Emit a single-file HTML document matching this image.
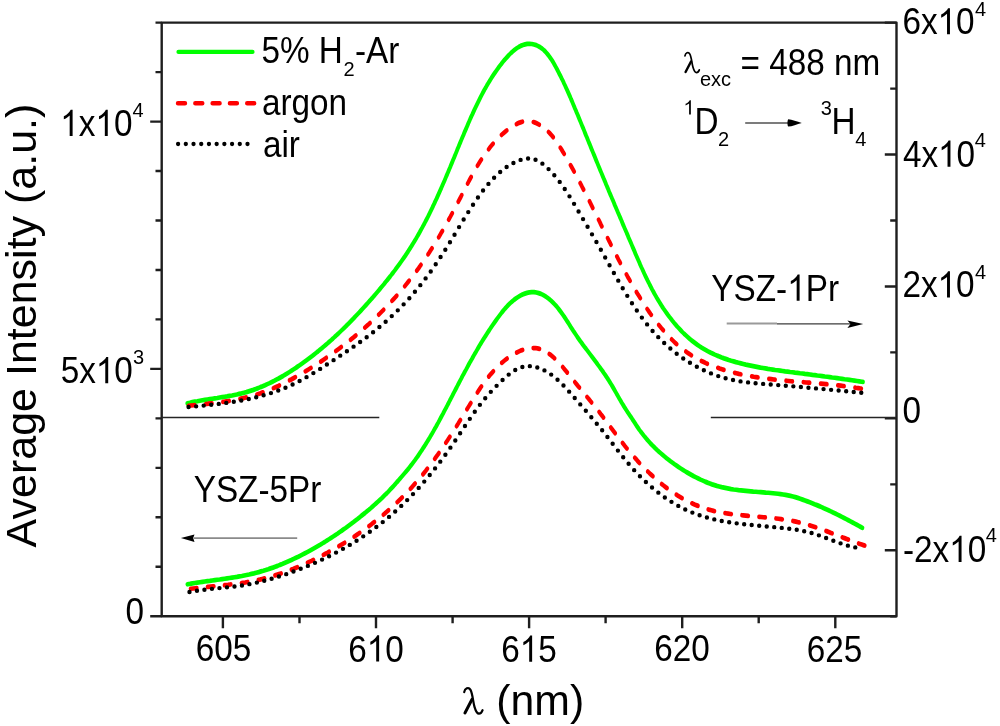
<!DOCTYPE html>
<html><head><meta charset="utf-8"><style>
html,body{margin:0;padding:0;background:#fff;width:1000px;height:726px;overflow:hidden}
svg{display:block;filter:blur(0.45px)}
text{font-family:"Liberation Sans",sans-serif;fill:#000;stroke:none}
</style></head><body>
<svg width="1000" height="726" viewBox="0 0 1000 726">
<rect width="1000" height="726" fill="#fff"/>
<path d="M161.7,22.6 H896.5 V616.3 H161.7 Z" fill="none" stroke="#1e1e1e" stroke-width="2.4" stroke-linejoin="round"/>
<path d="M150.2,616.3 H161.7 M155.5,566.8 H161.7 M155.5,517.3 H161.7 M155.5,467.9 H161.7 M155.5,418.4 H161.7 M150.2,368.9 H161.7 M155.5,319.4 H161.7 M155.5,270.0 H161.7 M155.5,220.5 H161.7 M155.5,171.0 H161.7 M150.2,121.6 H161.7 M155.5,72.1 H161.7 M155.5,22.6 H161.7 M890.2,616.3 H896.5 M884.8,550.3 H896.5 M890.2,484.4 H896.5 M884.8,418.4 H896.5 M890.2,352.4 H896.5 M884.8,286.5 H896.5 M890.2,220.5 H896.5 M884.8,154.5 H896.5 M890.2,88.6 H896.5 M884.8,22.6 H896.5 M222.9,616.3 V628.3 M299.5,616.3 V623.2 M376.0,616.3 V628.3 M452.6,616.3 V623.2 M529.1,616.3 V628.3 M605.6,616.3 V623.2 M682.2,616.3 V628.3 M758.7,616.3 V623.2 M835.3,616.3 V628.3" fill="none" stroke="#1e1e1e" stroke-width="2.4"/>
<path d="M161.7,417.5 H379.3 M710.8,417.5 H896.5" stroke="#252525" stroke-width="1.6"/>
<g transform="scale(1,1.25)"><path d="M187.3,322.6 L189.8,322.2 L192.3,321.7 L194.8,321.3 L197.3,321.0 L199.9,320.6 L202.4,320.2 L204.9,319.9 L207.4,319.6 L209.8,319.3 L212.3,319.0 L214.8,318.7 L217.3,318.4 L219.7,318.0 L222.2,317.7 L224.7,317.4 L227.1,317.1 L229.5,316.7 L232.0,316.4 L234.4,316.0 L236.8,315.6 L239.2,315.1 L241.6,314.7 L244.0,314.2 L246.4,313.7 L248.7,313.1 L251.1,312.5 L253.4,311.9 L255.8,311.2 L258.1,310.5 L260.4,309.7 L262.7,309.0 L265.0,308.2 L267.3,307.3 L269.6,306.5 L271.9,305.6 L274.1,304.7 L276.3,303.7 L278.6,302.8 L280.8,301.8 L283.0,300.8 L285.2,299.7 L287.3,298.7 L289.5,297.6 L291.6,296.5 L293.7,295.4 L295.9,294.3 L297.9,293.1 L300.0,292.0 L302.1,290.8 L304.1,289.6 L306.2,288.4 L308.2,287.2 L310.2,286.0 L312.2,284.8 L314.1,283.6 L316.1,282.3 L318.0,281.1 L319.9,279.8 L321.8,278.6 L323.7,277.3 L325.6,276.0 L327.5,274.7 L329.3,273.4 L331.2,272.1 L333.0,270.8 L334.8,269.4 L336.6,268.1 L338.4,266.8 L340.2,265.4 L342.0,264.0 L343.7,262.7 L345.5,261.3 L347.2,259.9 L349.0,258.5 L350.7,257.1 L352.4,255.7 L354.1,254.3 L355.8,252.8 L357.5,251.4 L359.2,250.0 L360.9,248.5 L362.6,247.0 L364.2,245.6 L365.9,244.1 L367.6,242.6 L369.2,241.1 L370.9,239.6 L372.6,238.1 L374.2,236.6 L375.8,235.1 L377.5,233.5 L379.1,232.0 L380.7,230.4 L382.3,228.9 L384.0,227.3 L385.5,225.7 L387.1,224.2 L388.7,222.6 L390.3,221.0 L391.8,219.4 L393.4,217.8 L394.9,216.2 L396.4,214.5 L397.9,212.9 L399.4,211.3 L400.9,209.6 L402.3,208.0 L403.8,206.3 L405.2,204.7 L406.6,203.0 L408.0,201.3 L409.3,199.6 L410.7,197.9 L412.0,196.2 L413.3,194.5 L414.6,192.8 L415.9,191.1 L417.1,189.4 L418.4,187.6 L419.6,185.9 L420.8,184.1 L422.0,182.4 L423.2,180.6 L424.4,178.9 L425.5,177.1 L426.7,175.3 L427.8,173.6 L428.9,171.8 L430.0,170.0 L431.1,168.2 L432.2,166.4 L433.2,164.6 L434.3,162.8 L435.3,161.0 L436.4,159.2 L437.4,157.4 L438.4,155.6 L439.4,153.8 L440.4,152.0 L441.4,150.2 L442.4,148.3 L443.4,146.5 L444.4,144.7 L445.4,142.8 L446.3,141.0 L447.3,139.2 L448.3,137.3 L449.2,135.5 L450.2,133.7 L451.1,131.8 L452.1,130.0 L453.0,128.1 L454.0,126.3 L454.9,124.5 L455.9,122.6 L456.8,120.8 L457.7,118.9 L458.7,117.1 L459.6,115.2 L460.6,113.4 L461.5,111.6 L462.5,109.7 L463.5,107.9 L464.4,106.0 L465.4,104.2 L466.4,102.4 L467.4,100.5 L468.3,98.7 L469.3,96.9 L470.3,95.0 L471.3,93.2 L472.4,91.4 L473.4,89.6 L474.4,87.8 L475.5,86.0 L476.6,84.2 L477.7,82.4 L478.8,80.6 L479.9,78.8 L481.0,77.0 L482.2,75.2 L483.3,73.5 L484.5,71.7 L485.8,70.0 L487.0,68.2 L488.3,66.5 L489.6,64.8 L490.9,63.1 L492.2,61.4 L493.6,59.7 L495.0,58.1 L496.5,56.4 L497.9,54.8 L499.4,53.1 L501.0,51.5 L502.5,49.9 L504.1,48.3 L505.8,46.8 L507.5,45.3 L509.2,43.8 L511.0,42.4 L512.8,41.1 L514.7,39.8 L516.7,38.6 L518.7,37.6 L520.7,36.7 L522.9,36.0 L525.1,35.5 L527.3,35.1 L529.6,35.1 L531.8,35.2 L534.0,35.6 L536.2,36.1 L538.2,36.9 L540.2,37.8 L542.1,38.9 L543.9,40.1 L545.6,41.5 L547.2,43.0 L548.8,44.6 L550.3,46.3 L551.8,48.0 L553.2,49.8 L554.5,51.7 L555.8,53.6 L557.1,55.5 L558.3,57.4 L559.5,59.3 L560.7,61.1 L561.8,63.0 L563.0,64.8 L564.0,66.7 L565.1,68.5 L566.1,70.3 L567.2,72.2 L568.2,74.0 L569.2,75.8 L570.2,77.6 L571.1,79.4 L572.1,81.2 L573.0,83.0 L574.0,84.9 L574.9,86.7 L575.9,88.5 L576.8,90.3 L577.8,92.1 L578.7,93.9 L579.6,95.7 L580.6,97.6 L581.5,99.4 L582.4,101.2 L583.4,103.0 L584.3,104.8 L585.2,106.7 L586.1,108.5 L587.1,110.3 L588.0,112.2 L588.9,114.0 L589.9,115.8 L590.8,117.7 L591.7,119.5 L592.7,121.4 L593.6,123.2 L594.6,125.0 L595.5,126.9 L596.4,128.7 L597.4,130.6 L598.3,132.4 L599.3,134.3 L600.2,136.1 L601.2,138.0 L602.2,139.9 L603.1,141.7 L604.1,143.6 L605.1,145.4 L606.0,147.3 L607.0,149.2 L608.0,151.0 L608.9,152.9 L609.9,154.8 L610.9,156.6 L611.9,158.5 L612.9,160.3 L613.9,162.2 L614.8,164.1 L615.8,165.9 L616.8,167.8 L617.8,169.7 L618.8,171.5 L619.8,173.4 L620.8,175.2 L621.8,177.1 L622.7,179.0 L623.7,180.8 L624.7,182.7 L625.7,184.5 L626.7,186.4 L627.7,188.2 L628.6,190.1 L629.6,191.9 L630.6,193.7 L631.6,195.6 L632.5,197.4 L633.5,199.2 L634.5,201.0 L635.4,202.9 L636.4,204.7 L637.4,206.5 L638.4,208.3 L639.4,210.1 L640.3,211.9 L641.3,213.7 L642.4,215.5 L643.4,217.3 L644.4,219.1 L645.4,220.8 L646.5,222.6 L647.6,224.4 L648.7,226.1 L649.8,227.9 L650.9,229.6 L652.0,231.4 L653.2,233.1 L654.4,234.9 L655.6,236.6 L656.8,238.3 L658.1,240.0 L659.4,241.7 L660.7,243.4 L662.0,245.1 L663.4,246.8 L664.8,248.4 L666.3,250.1 L667.7,251.7 L669.2,253.3 L670.8,254.9 L672.3,256.5 L673.9,258.1 L675.5,259.6 L677.2,261.2 L678.9,262.6 L680.6,264.1 L682.3,265.6 L684.1,267.0 L685.9,268.3 L687.8,269.7 L689.6,271.0 L691.5,272.3 L693.5,273.5 L695.5,274.7 L697.5,275.9 L699.5,277.0 L701.6,278.1 L703.7,279.1 L705.9,280.1 L708.1,281.1 L710.3,282.0 L712.5,282.8 L714.8,283.7 L717.1,284.5 L719.4,285.2 L721.7,286.0 L724.1,286.7 L726.4,287.3 L728.8,288.0 L731.2,288.6 L733.6,289.1 L736.0,289.7 L738.5,290.2 L740.9,290.7 L743.3,291.2 L745.8,291.7 L748.2,292.1 L750.7,292.5 L753.1,292.9 L755.6,293.3 L758.0,293.7 L760.5,294.1 L762.9,294.4 L765.4,294.7 L767.8,295.1 L770.3,295.4 L772.8,295.7 L775.2,296.0 L777.7,296.2 L780.2,296.5 L782.6,296.8 L785.1,297.1 L787.6,297.3 L790.1,297.6 L792.5,297.8 L795.0,298.1 L797.5,298.3 L800.0,298.6 L802.5,298.8 L804.9,299.1 L807.4,299.3 L809.9,299.6 L812.4,299.9 L814.9,300.1 L817.3,300.4 L819.8,300.6 L822.3,300.9 L824.8,301.2 L827.3,301.4 L829.8,301.7 L832.2,302.0 L834.7,302.2 L837.2,302.5 L839.7,302.8 L842.1,303.1 L844.6,303.4 L847.1,303.6 L849.6,303.9 L852.0,304.2 L854.5,304.5 L857.0,304.8 L859.4,305.1 L861.9,305.4 L863.0,305.5" fill="none" stroke="#00ff00" stroke-width="3.8" stroke-linejoin="round" stroke-linecap="round"/></g>
<g transform="scale(1,1.25)"><path d="M188.5,324.6 L191.1,324.4 L193.6,324.2 L196.2,324.0 L198.8,323.8 L201.3,323.6 L203.9,323.4 L206.4,323.2 L208.9,322.9 L211.4,322.7 L213.9,322.5 L216.4,322.2 L218.9,322.0 L221.4,321.7 L223.9,321.4 L226.3,321.1 L228.8,320.8 L231.2,320.4 L233.7,320.1 L236.1,319.7 L238.5,319.3 L240.9,318.9 L243.3,318.5 L245.7,318.0 L248.1,317.6 L250.5,317.1 L252.8,316.5 L255.2,316.0 L257.6,315.4 L259.9,314.8 L262.2,314.1 L264.5,313.4 L266.9,312.7 L269.2,312.0 L271.5,311.2 L273.8,310.4 L276.0,309.6 L278.3,308.8 L280.6,307.9 L282.8,307.1 L285.1,306.2 L287.3,305.2 L289.5,304.3 L291.7,303.4 L293.9,302.4 L296.1,301.4 L298.3,300.4 L300.5,299.4 L302.7,298.4 L304.9,297.3 L307.0,296.3 L309.2,295.2 L311.3,294.2 L313.4,293.1 L315.6,292.0 L317.7,290.9 L319.8,289.8 L321.9,288.7 L323.9,287.6 L326.0,286.4 L328.1,285.3 L330.1,284.1 L332.2,283.0 L334.2,281.8 L336.2,280.6 L338.3,279.4 L340.3,278.2 L342.3,277.0 L344.2,275.8 L346.2,274.6 L348.2,273.3 L350.1,272.1 L352.1,270.8 L354.0,269.6 L355.9,268.3 L357.8,267.0 L359.7,265.7 L361.6,264.4 L363.5,263.1 L365.4,261.7 L367.2,260.4 L369.1,259.1 L370.9,257.7 L372.7,256.3 L374.5,255.0 L376.3,253.6 L378.1,252.2 L379.9,250.8 L381.6,249.4 L383.4,248.0 L385.1,246.5 L386.9,245.1 L388.6,243.7 L390.3,242.2 L392.0,240.7 L393.6,239.3 L395.3,237.8 L396.9,236.3 L398.6,234.8 L400.2,233.3 L401.8,231.8 L403.4,230.2 L405.0,228.7 L406.6,227.1 L408.1,225.6 L409.7,224.0 L411.2,222.5 L412.7,220.9 L414.3,219.3 L415.7,217.7 L417.2,216.1 L418.7,214.5 L420.1,212.8 L421.6,211.2 L423.0,209.6 L424.4,207.9 L425.8,206.2 L427.2,204.6 L428.6,202.9 L429.9,201.2 L431.3,199.5 L432.6,197.8 L433.9,196.1 L435.2,194.4 L436.5,192.7 L437.8,191.0 L439.1,189.3 L440.4,187.5 L441.6,185.8 L442.9,184.1 L444.1,182.3 L445.4,180.6 L446.6,178.8 L447.8,177.1 L449.0,175.3 L450.2,173.6 L451.4,171.8 L452.6,170.0 L453.7,168.3 L454.9,166.5 L456.1,164.8 L457.2,163.0 L458.4,161.2 L459.5,159.5 L460.7,157.7 L461.8,155.9 L462.9,154.2 L464.0,152.4 L465.2,150.7 L466.3,148.9 L467.4,147.2 L468.6,145.4 L469.7,143.7 L470.9,141.9 L472.1,140.2 L473.3,138.4 L474.5,136.7 L475.7,135.0 L477.0,133.3 L478.3,131.5 L479.6,129.8 L481.0,128.1 L482.3,126.4 L483.8,124.7 L485.2,123.1 L486.7,121.4 L488.3,119.8 L489.8,118.1 L491.4,116.5 L493.1,114.9 L494.8,113.4 L496.6,111.9 L498.3,110.4 L500.2,108.9 L502.1,107.5 L504.0,106.2 L506.0,104.8 L508.1,103.6 L510.1,102.3 L512.3,101.2 L514.5,100.1 L516.7,99.2 L518.9,98.3 L521.2,97.7 L523.4,97.2 L525.7,96.9 L527.9,96.9 L530.2,97.1 L532.4,97.4 L534.5,97.9 L536.6,98.6 L538.7,99.5 L540.7,100.4 L542.6,101.4 L544.5,102.6 L546.3,103.8 L548.0,105.1 L549.7,106.5 L551.3,107.9 L552.8,109.4 L554.3,111.0 L555.8,112.6 L557.3,114.3 L558.7,115.9 L560.0,117.7 L561.4,119.4 L562.7,121.2 L564.0,122.9 L565.3,124.7 L566.6,126.5 L567.8,128.2 L569.1,130.0 L570.3,131.8 L571.6,133.6 L572.8,135.3 L574.0,137.1 L575.2,138.9 L576.4,140.7 L577.6,142.5 L578.7,144.2 L579.9,146.0 L581.1,147.8 L582.2,149.6 L583.3,151.3 L584.5,153.1 L585.6,154.9 L586.7,156.7 L587.9,158.5 L589.0,160.2 L590.1,162.0 L591.2,163.8 L592.3,165.6 L593.4,167.4 L594.5,169.1 L595.6,170.9 L596.7,172.7 L597.8,174.5 L598.9,176.2 L600.0,178.0 L601.0,179.8 L602.1,181.5 L603.2,183.3 L604.3,185.1 L605.4,186.9 L606.5,188.6 L607.6,190.4 L608.7,192.2 L609.8,193.9 L610.9,195.7 L612.0,197.4 L613.1,199.2 L614.2,201.0 L615.3,202.7 L616.5,204.5 L617.6,206.2 L618.7,208.0 L619.9,209.7 L621.0,211.5 L622.2,213.2 L623.4,215.0 L624.5,216.7 L625.7,218.5 L626.9,220.2 L628.1,222.0 L629.4,223.7 L630.6,225.5 L631.8,227.2 L633.1,228.9 L634.4,230.7 L635.6,232.4 L636.9,234.2 L638.2,235.9 L639.6,237.6 L640.9,239.4 L642.3,241.1 L643.6,242.8 L645.0,244.6 L646.4,246.3 L647.9,248.0 L649.3,249.7 L650.8,251.4 L652.3,253.0 L653.8,254.7 L655.3,256.3 L656.8,257.9 L658.4,259.6 L660.0,261.1 L661.6,262.7 L663.3,264.3 L664.9,265.8 L666.6,267.3 L668.3,268.8 L670.0,270.2 L671.8,271.6 L673.6,273.0 L675.4,274.4 L677.2,275.7 L679.1,277.0 L681.0,278.2 L682.9,279.5 L684.9,280.6 L686.8,281.8 L688.9,282.9 L690.9,284.0 L693.0,285.0 L695.1,286.0 L697.2,287.0 L699.3,287.9 L701.5,288.8 L703.7,289.6 L705.9,290.5 L708.1,291.3 L710.4,292.0 L712.7,292.8 L715.0,293.5 L717.3,294.1 L719.6,294.8 L722.0,295.4 L724.3,296.0 L726.7,296.6 L729.1,297.1 L731.5,297.6 L733.9,298.1 L736.4,298.6 L738.8,299.1 L741.3,299.5 L743.7,299.9 L746.2,300.3 L748.7,300.7 L751.2,301.0 L753.7,301.4 L756.2,301.7 L758.7,302.0 L761.2,302.3 L763.7,302.6 L766.2,302.8 L768.7,303.1 L771.2,303.3 L773.8,303.6 L776.3,303.8 L778.8,304.0 L781.3,304.2 L783.8,304.4 L786.3,304.6 L788.8,304.8 L791.3,305.0 L793.8,305.1 L796.3,305.3 L798.7,305.5 L801.2,305.6 L803.7,305.8 L806.2,306.0 L808.6,306.1 L811.1,306.3 L813.5,306.4 L816.0,306.6 L818.5,306.8 L820.9,306.9 L823.4,307.1 L825.9,307.3 L828.3,307.5 L830.8,307.7 L833.3,307.9 L835.7,308.1 L838.2,308.3 L840.7,308.5 L843.2,308.8 L845.7,309.0 L848.2,309.3 L850.7,309.6 L853.2,309.8 L855.7,310.2 L858.2,310.5 L860.7,310.8 L861.4,310.9" fill="none" stroke="#ff0000" stroke-width="3.8" stroke-dasharray="6.2 11.093" stroke-linecap="round"/></g>
<path d="M186.38,407.06a2.2,2.2 0 1,0 4.4,0a2.2,2.2 0 1,0 -4.4,0M193.93,406.35a2.2,2.2 0 1,0 4.4,0a2.2,2.2 0 1,0 -4.4,0M201.47,405.61a2.2,2.2 0 1,0 4.4,0a2.2,2.2 0 1,0 -4.4,0M209.01,404.80a2.2,2.2 0 1,0 4.4,0a2.2,2.2 0 1,0 -4.4,0M216.55,403.91a2.2,2.2 0 1,0 4.4,0a2.2,2.2 0 1,0 -4.4,0M224.07,402.91a2.2,2.2 0 1,0 4.4,0a2.2,2.2 0 1,0 -4.4,0M231.59,401.77a2.2,2.2 0 1,0 4.4,0a2.2,2.2 0 1,0 -4.4,0M239.08,400.47a2.2,2.2 0 1,0 4.4,0a2.2,2.2 0 1,0 -4.4,0M246.55,398.98a2.2,2.2 0 1,0 4.4,0a2.2,2.2 0 1,0 -4.4,0M254.00,397.27a2.2,2.2 0 1,0 4.4,0a2.2,2.2 0 1,0 -4.4,0M261.40,395.31a2.2,2.2 0 1,0 4.4,0a2.2,2.2 0 1,0 -4.4,0M268.76,393.08a2.2,2.2 0 1,0 4.4,0a2.2,2.2 0 1,0 -4.4,0M276.05,390.55a2.2,2.2 0 1,0 4.4,0a2.2,2.2 0 1,0 -4.4,0M283.26,387.69a2.2,2.2 0 1,0 4.4,0a2.2,2.2 0 1,0 -4.4,0M290.38,384.48a2.2,2.2 0 1,0 4.4,0a2.2,2.2 0 1,0 -4.4,0M297.39,380.94a2.2,2.2 0 1,0 4.4,0a2.2,2.2 0 1,0 -4.4,0M304.32,377.13a2.2,2.2 0 1,0 4.4,0a2.2,2.2 0 1,0 -4.4,0M311.17,373.10a2.2,2.2 0 1,0 4.4,0a2.2,2.2 0 1,0 -4.4,0M317.95,368.90a2.2,2.2 0 1,0 4.4,0a2.2,2.2 0 1,0 -4.4,0M324.67,364.56a2.2,2.2 0 1,0 4.4,0a2.2,2.2 0 1,0 -4.4,0M331.36,360.14a2.2,2.2 0 1,0 4.4,0a2.2,2.2 0 1,0 -4.4,0M338.03,355.67a2.2,2.2 0 1,0 4.4,0a2.2,2.2 0 1,0 -4.4,0M344.70,351.20a2.2,2.2 0 1,0 4.4,0a2.2,2.2 0 1,0 -4.4,0M351.35,346.67a2.2,2.2 0 1,0 4.4,0a2.2,2.2 0 1,0 -4.4,0M357.94,342.04a2.2,2.2 0 1,0 4.4,0a2.2,2.2 0 1,0 -4.4,0M364.46,337.24a2.2,2.2 0 1,0 4.4,0a2.2,2.2 0 1,0 -4.4,0M370.89,332.25a2.2,2.2 0 1,0 4.4,0a2.2,2.2 0 1,0 -4.4,0M377.22,327.07a2.2,2.2 0 1,0 4.4,0a2.2,2.2 0 1,0 -4.4,0M383.45,321.69a2.2,2.2 0 1,0 4.4,0a2.2,2.2 0 1,0 -4.4,0M389.56,316.12a2.2,2.2 0 1,0 4.4,0a2.2,2.2 0 1,0 -4.4,0M395.56,310.35a2.2,2.2 0 1,0 4.4,0a2.2,2.2 0 1,0 -4.4,0M401.43,304.37a2.2,2.2 0 1,0 4.4,0a2.2,2.2 0 1,0 -4.4,0M407.15,298.18a2.2,2.2 0 1,0 4.4,0a2.2,2.2 0 1,0 -4.4,0M412.72,291.77a2.2,2.2 0 1,0 4.4,0a2.2,2.2 0 1,0 -4.4,0M418.13,285.17a2.2,2.2 0 1,0 4.4,0a2.2,2.2 0 1,0 -4.4,0M423.40,278.38a2.2,2.2 0 1,0 4.4,0a2.2,2.2 0 1,0 -4.4,0M428.53,271.42a2.2,2.2 0 1,0 4.4,0a2.2,2.2 0 1,0 -4.4,0M433.52,264.31a2.2,2.2 0 1,0 4.4,0a2.2,2.2 0 1,0 -4.4,0M438.38,257.06a2.2,2.2 0 1,0 4.4,0a2.2,2.2 0 1,0 -4.4,0M443.13,249.69a2.2,2.2 0 1,0 4.4,0a2.2,2.2 0 1,0 -4.4,0M447.76,242.22a2.2,2.2 0 1,0 4.4,0a2.2,2.2 0 1,0 -4.4,0M452.33,234.67a2.2,2.2 0 1,0 4.4,0a2.2,2.2 0 1,0 -4.4,0M456.87,227.11a2.2,2.2 0 1,0 4.4,0a2.2,2.2 0 1,0 -4.4,0M461.44,219.57a2.2,2.2 0 1,0 4.4,0a2.2,2.2 0 1,0 -4.4,0M466.08,212.10a2.2,2.2 0 1,0 4.4,0a2.2,2.2 0 1,0 -4.4,0M470.83,204.74a2.2,2.2 0 1,0 4.4,0a2.2,2.2 0 1,0 -4.4,0M475.74,197.54a2.2,2.2 0 1,0 4.4,0a2.2,2.2 0 1,0 -4.4,0M480.85,190.56a2.2,2.2 0 1,0 4.4,0a2.2,2.2 0 1,0 -4.4,0M486.23,183.90a2.2,2.2 0 1,0 4.4,0a2.2,2.2 0 1,0 -4.4,0M491.92,177.68a2.2,2.2 0 1,0 4.4,0a2.2,2.2 0 1,0 -4.4,0M497.98,172.01a2.2,2.2 0 1,0 4.4,0a2.2,2.2 0 1,0 -4.4,0M504.42,167.05a2.2,2.2 0 1,0 4.4,0a2.2,2.2 0 1,0 -4.4,0M511.23,162.95a2.2,2.2 0 1,0 4.4,0a2.2,2.2 0 1,0 -4.4,0M518.39,159.91a2.2,2.2 0 1,0 4.4,0a2.2,2.2 0 1,0 -4.4,0M525.86,158.54a2.2,2.2 0 1,0 4.4,0a2.2,2.2 0 1,0 -4.4,0M533.33,159.75a2.2,2.2 0 1,0 4.4,0a2.2,2.2 0 1,0 -4.4,0M540.19,163.67a2.2,2.2 0 1,0 4.4,0a2.2,2.2 0 1,0 -4.4,0M546.38,169.11a2.2,2.2 0 1,0 4.4,0a2.2,2.2 0 1,0 -4.4,0M552.12,175.27a2.2,2.2 0 1,0 4.4,0a2.2,2.2 0 1,0 -4.4,0M557.50,181.91a2.2,2.2 0 1,0 4.4,0a2.2,2.2 0 1,0 -4.4,0M562.54,188.97a2.2,2.2 0 1,0 4.4,0a2.2,2.2 0 1,0 -4.4,0M567.30,196.33a2.2,2.2 0 1,0 4.4,0a2.2,2.2 0 1,0 -4.4,0M571.87,203.87a2.2,2.2 0 1,0 4.4,0a2.2,2.2 0 1,0 -4.4,0M576.37,211.47a2.2,2.2 0 1,0 4.4,0a2.2,2.2 0 1,0 -4.4,0M580.86,219.08a2.2,2.2 0 1,0 4.4,0a2.2,2.2 0 1,0 -4.4,0M585.34,226.71a2.2,2.2 0 1,0 4.4,0a2.2,2.2 0 1,0 -4.4,0M589.80,234.35a2.2,2.2 0 1,0 4.4,0a2.2,2.2 0 1,0 -4.4,0M594.23,242.02a2.2,2.2 0 1,0 4.4,0a2.2,2.2 0 1,0 -4.4,0M598.63,249.71a2.2,2.2 0 1,0 4.4,0a2.2,2.2 0 1,0 -4.4,0M602.99,257.44a2.2,2.2 0 1,0 4.4,0a2.2,2.2 0 1,0 -4.4,0M607.33,265.20a2.2,2.2 0 1,0 4.4,0a2.2,2.2 0 1,0 -4.4,0M611.68,272.94a2.2,2.2 0 1,0 4.4,0a2.2,2.2 0 1,0 -4.4,0M616.06,280.65a2.2,2.2 0 1,0 4.4,0a2.2,2.2 0 1,0 -4.4,0M620.51,288.30a2.2,2.2 0 1,0 4.4,0a2.2,2.2 0 1,0 -4.4,0M625.07,295.85a2.2,2.2 0 1,0 4.4,0a2.2,2.2 0 1,0 -4.4,0M629.77,303.27a2.2,2.2 0 1,0 4.4,0a2.2,2.2 0 1,0 -4.4,0M634.62,310.53a2.2,2.2 0 1,0 4.4,0a2.2,2.2 0 1,0 -4.4,0M639.66,317.58a2.2,2.2 0 1,0 4.4,0a2.2,2.2 0 1,0 -4.4,0M644.90,324.40a2.2,2.2 0 1,0 4.4,0a2.2,2.2 0 1,0 -4.4,0M650.37,330.94a2.2,2.2 0 1,0 4.4,0a2.2,2.2 0 1,0 -4.4,0M656.06,337.17a2.2,2.2 0 1,0 4.4,0a2.2,2.2 0 1,0 -4.4,0M661.99,343.05a2.2,2.2 0 1,0 4.4,0a2.2,2.2 0 1,0 -4.4,0M668.14,348.56a2.2,2.2 0 1,0 4.4,0a2.2,2.2 0 1,0 -4.4,0M674.49,353.70a2.2,2.2 0 1,0 4.4,0a2.2,2.2 0 1,0 -4.4,0M681.04,358.45a2.2,2.2 0 1,0 4.4,0a2.2,2.2 0 1,0 -4.4,0M687.76,362.80a2.2,2.2 0 1,0 4.4,0a2.2,2.2 0 1,0 -4.4,0M694.63,366.76a2.2,2.2 0 1,0 4.4,0a2.2,2.2 0 1,0 -4.4,0M701.64,370.30a2.2,2.2 0 1,0 4.4,0a2.2,2.2 0 1,0 -4.4,0M708.79,373.42a2.2,2.2 0 1,0 4.4,0a2.2,2.2 0 1,0 -4.4,0M716.05,376.09a2.2,2.2 0 1,0 4.4,0a2.2,2.2 0 1,0 -4.4,0M723.40,378.30a2.2,2.2 0 1,0 4.4,0a2.2,2.2 0 1,0 -4.4,0M730.84,380.04a2.2,2.2 0 1,0 4.4,0a2.2,2.2 0 1,0 -4.4,0M738.33,381.39a2.2,2.2 0 1,0 4.4,0a2.2,2.2 0 1,0 -4.4,0M745.85,382.42a2.2,2.2 0 1,0 4.4,0a2.2,2.2 0 1,0 -4.4,0M753.39,383.22a2.2,2.2 0 1,0 4.4,0a2.2,2.2 0 1,0 -4.4,0M760.94,383.88a2.2,2.2 0 1,0 4.4,0a2.2,2.2 0 1,0 -4.4,0M768.50,384.48a2.2,2.2 0 1,0 4.4,0a2.2,2.2 0 1,0 -4.4,0M776.05,385.08a2.2,2.2 0 1,0 4.4,0a2.2,2.2 0 1,0 -4.4,0M783.60,385.71a2.2,2.2 0 1,0 4.4,0a2.2,2.2 0 1,0 -4.4,0M791.15,386.36a2.2,2.2 0 1,0 4.4,0a2.2,2.2 0 1,0 -4.4,0M798.70,387.02a2.2,2.2 0 1,0 4.4,0a2.2,2.2 0 1,0 -4.4,0M806.25,387.71a2.2,2.2 0 1,0 4.4,0a2.2,2.2 0 1,0 -4.4,0M813.79,388.40a2.2,2.2 0 1,0 4.4,0a2.2,2.2 0 1,0 -4.4,0M821.34,389.11a2.2,2.2 0 1,0 4.4,0a2.2,2.2 0 1,0 -4.4,0M828.89,389.83a2.2,2.2 0 1,0 4.4,0a2.2,2.2 0 1,0 -4.4,0M836.43,390.56a2.2,2.2 0 1,0 4.4,0a2.2,2.2 0 1,0 -4.4,0M843.98,391.29a2.2,2.2 0 1,0 4.4,0a2.2,2.2 0 1,0 -4.4,0M851.52,392.02a2.2,2.2 0 1,0 4.4,0a2.2,2.2 0 1,0 -4.4,0M859.07,392.75a2.2,2.2 0 1,0 4.4,0a2.2,2.2 0 1,0 -4.4,0" fill="#000000"/>
<g transform="scale(1,1.25)"><path d="M187.4,467.4 L189.9,467.1 L192.4,466.7 L194.9,466.4 L197.4,466.1 L199.9,465.8 L202.4,465.5 L204.9,465.2 L207.4,464.9 L209.8,464.7 L212.3,464.4 L214.8,464.1 L217.3,463.8 L219.7,463.6 L222.2,463.3 L224.7,463.0 L227.1,462.7 L229.6,462.4 L232.0,462.1 L234.5,461.8 L236.9,461.5 L239.4,461.1 L241.8,460.8 L244.2,460.4 L246.6,460.0 L249.1,459.6 L251.5,459.1 L253.9,458.7 L256.3,458.2 L258.7,457.7 L261.0,457.1 L263.4,456.6 L265.8,456.0 L268.2,455.4 L270.5,454.7 L272.9,454.1 L275.2,453.4 L277.6,452.7 L279.9,451.9 L282.2,451.2 L284.5,450.4 L286.8,449.6 L289.1,448.8 L291.4,448.0 L293.7,447.1 L296.0,446.2 L298.3,445.4 L300.5,444.5 L302.8,443.5 L305.0,442.6 L307.2,441.7 L309.5,440.7 L311.7,439.7 L313.9,438.7 L316.1,437.7 L318.2,436.7 L320.4,435.7 L322.6,434.6 L324.7,433.6 L326.8,432.5 L329.0,431.4 L331.1,430.3 L333.2,429.2 L335.3,428.1 L337.4,427.0 L339.4,425.8 L341.5,424.7 L343.5,423.5 L345.6,422.4 L347.6,421.2 L349.6,420.0 L351.6,418.8 L353.6,417.6 L355.5,416.4 L357.5,415.2 L359.4,414.0 L361.3,412.7 L363.2,411.5 L365.1,410.3 L367.0,409.0 L368.9,407.8 L370.8,406.5 L372.6,405.2 L374.4,403.9 L376.2,402.6 L378.0,401.3 L379.8,400.0 L381.6,398.7 L383.3,397.3 L385.0,395.9 L386.8,394.6 L388.5,393.2 L390.1,391.7 L391.8,390.3 L393.5,388.9 L395.1,387.4 L396.7,385.9 L398.3,384.5 L399.9,383.0 L401.5,381.5 L403.0,380.1 L404.5,378.7 L406.1,377.2 L407.6,375.8 L409.1,374.3 L410.5,372.8 L412.0,371.3 L413.4,369.8 L414.9,368.2 L416.3,366.6 L417.7,365.1 L419.1,363.4 L420.4,361.8 L421.8,360.2 L423.1,358.5 L424.5,356.9 L425.8,355.2 L427.1,353.5 L428.4,351.8 L429.7,350.1 L430.9,348.4 L432.2,346.7 L433.4,345.0 L434.6,343.2 L435.9,341.5 L437.1,339.7 L438.3,338.0 L439.5,336.2 L440.6,334.5 L441.8,332.7 L443.0,331.0 L444.1,329.2 L445.3,327.4 L446.5,325.7 L447.6,323.9 L448.8,322.1 L449.9,320.3 L451.0,318.6 L452.2,316.8 L453.3,315.0 L454.5,313.2 L455.6,311.5 L456.8,309.7 L457.9,307.9 L459.1,306.1 L460.2,304.4 L461.4,302.6 L462.5,300.8 L463.7,299.1 L464.9,297.3 L466.1,295.6 L467.3,293.8 L468.4,292.1 L469.6,290.3 L470.9,288.6 L472.1,286.9 L473.3,285.1 L474.5,283.4 L475.8,281.7 L477.0,280.0 L478.3,278.2 L479.5,276.5 L480.8,274.8 L482.1,273.1 L483.4,271.4 L484.7,269.8 L486.1,268.1 L487.4,266.4 L488.8,264.7 L490.1,263.1 L491.5,261.4 L492.9,259.8 L494.4,258.1 L495.8,256.5 L497.3,254.8 L498.8,253.2 L500.3,251.6 L501.8,250.0 L503.4,248.4 L505.0,246.9 L506.7,245.4 L508.4,243.9 L510.2,242.5 L512.1,241.2 L514.0,239.9 L516.0,238.7 L518.1,237.6 L520.3,236.5 L522.5,235.6 L524.8,234.9 L527.1,234.3 L529.4,233.9 L531.8,233.7 L534.1,233.7 L536.4,234.0 L538.7,234.5 L540.9,235.1 L543.0,235.9 L545.1,236.9 L547.1,238.0 L549.1,239.2 L551.0,240.5 L552.8,241.9 L554.6,243.4 L556.4,244.9 L558.0,246.5 L559.6,248.2 L561.2,249.9 L562.7,251.6 L564.2,253.3 L565.6,255.0 L566.9,256.7 L568.3,258.3 L569.5,259.9 L570.8,261.6 L572.1,263.2 L573.4,264.8 L574.7,266.3 L576.0,267.9 L577.3,269.5 L578.7,271.1 L580.1,272.7 L581.6,274.3 L583.0,275.9 L584.5,277.5 L586.0,279.0 L587.5,280.6 L589.0,282.2 L590.5,283.8 L592.1,285.5 L593.6,287.1 L595.1,288.7 L596.6,290.3 L598.1,292.0 L599.6,293.6 L601.1,295.3 L602.6,296.9 L604.0,298.6 L605.5,300.3 L606.9,302.0 L608.3,303.7 L609.6,305.4 L610.9,307.1 L612.2,308.8 L613.5,310.6 L614.7,312.3 L615.9,314.0 L617.1,315.7 L618.3,317.4 L619.5,319.1 L620.7,320.7 L621.8,322.3 L623.0,323.8 L624.2,325.4 L625.3,326.8 L626.5,328.3 L627.7,329.8 L628.9,331.2 L630.1,332.7 L631.4,334.1 L632.6,335.7 L633.9,337.2 L635.2,338.8 L636.5,340.5 L637.9,342.1 L639.3,343.8 L640.8,345.4 L642.3,346.9 L643.8,348.5 L645.4,350.0 L646.9,351.5 L648.6,353.0 L650.2,354.5 L651.9,355.9 L653.7,357.3 L655.4,358.7 L657.2,360.1 L659.0,361.4 L660.9,362.7 L662.8,364.0 L664.7,365.3 L666.6,366.6 L668.6,367.8 L670.5,369.0 L672.6,370.2 L674.6,371.4 L676.6,372.5 L678.7,373.7 L680.8,374.8 L682.9,375.9 L685.1,377.0 L687.2,378.0 L689.4,379.0 L691.6,380.0 L693.8,381.0 L696.1,381.9 L698.3,382.8 L700.6,383.7 L702.9,384.5 L705.1,385.3 L707.5,386.1 L709.8,386.8 L712.1,387.5 L714.5,388.1 L716.8,388.7 L719.2,389.2 L721.6,389.7 L724.0,390.1 L726.4,390.5 L728.8,390.9 L731.2,391.3 L733.6,391.6 L736.1,391.8 L738.5,392.1 L741.0,392.3 L743.4,392.5 L745.9,392.7 L748.4,392.9 L750.8,393.1 L753.3,393.3 L755.8,393.4 L758.2,393.6 L760.7,393.7 L763.2,393.9 L765.7,394.1 L768.2,394.2 L770.7,394.4 L773.1,394.6 L775.6,394.8 L778.1,395.0 L780.6,395.3 L783.0,395.6 L785.5,395.9 L788.0,396.3 L790.4,396.7 L792.9,397.2 L795.3,397.7 L797.7,398.3 L800.2,399.0 L802.6,399.7 L805.0,400.4 L807.4,401.1 L809.8,401.8 L812.2,402.6 L814.5,403.4 L816.9,404.1 L819.3,404.9 L821.6,405.7 L823.9,406.6 L826.2,407.4 L828.5,408.2 L830.8,409.1 L833.1,410.0 L835.3,410.8 L837.5,411.7 L839.8,412.6 L841.9,413.5 L844.1,414.4 L846.3,415.3 L848.4,416.2 L850.5,417.1 L852.6,418.0 L854.7,418.9 L856.8,419.8 L858.8,420.7 L860.8,421.6 L862.4,422.3" fill="none" stroke="#00ff00" stroke-width="3.8" stroke-linejoin="round" stroke-linecap="round"/></g>
<g transform="scale(1,1.25)"><path d="M190.6,471.0 L193.1,470.8 L195.6,470.6 L198.1,470.4 L200.6,470.1 L203.1,469.9 L205.6,469.7 L208.1,469.5 L210.6,469.3 L213.1,469.1 L215.6,468.9 L218.1,468.7 L220.5,468.5 L223.0,468.3 L225.5,468.1 L228.0,467.9 L230.4,467.6 L232.9,467.4 L235.4,467.1 L237.8,466.9 L240.3,466.6 L242.8,466.3 L245.2,466.0 L247.6,465.6 L250.1,465.3 L252.5,464.9 L255.0,464.5 L257.4,464.1 L259.8,463.7 L262.2,463.2 L264.6,462.7 L267.0,462.2 L269.4,461.7 L271.8,461.1 L274.2,460.5 L276.6,459.9 L279.0,459.3 L281.3,458.7 L283.7,458.0 L286.1,457.3 L288.4,456.6 L290.7,455.9 L293.1,455.2 L295.4,454.4 L297.7,453.6 L300.0,452.8 L302.3,452.0 L304.6,451.2 L306.9,450.4 L309.2,449.5 L311.5,448.7 L313.8,447.8 L316.0,446.9 L318.3,446.0 L320.5,445.1 L322.7,444.2 L325.0,443.2 L327.2,442.3 L329.4,441.3 L331.6,440.4 L333.7,439.4 L335.9,438.4 L338.1,437.4 L340.2,436.3 L342.4,435.3 L344.5,434.3 L346.6,433.2 L348.7,432.1 L350.8,431.1 L352.9,430.0 L355.0,428.9 L357.1,427.7 L359.1,426.6 L361.2,425.5 L363.2,424.3 L365.2,423.1 L367.2,422.0 L369.2,420.8 L371.2,419.6 L373.2,418.3 L375.2,417.1 L377.1,415.9 L379.0,414.6 L381.0,413.4 L382.9,412.1 L384.8,410.8 L386.6,409.5 L388.5,408.2 L390.4,406.9 L392.2,405.5 L394.0,404.2 L395.8,402.8 L397.6,401.5 L399.4,400.1 L401.2,398.7 L402.9,397.3 L404.7,395.9 L406.4,394.5 L408.1,393.0 L409.8,391.6 L411.5,390.1 L413.1,388.6 L414.8,387.1 L416.4,385.6 L418.0,384.1 L419.6,382.6 L421.2,381.1 L422.8,379.6 L424.4,378.0 L425.9,376.5 L427.4,374.9 L428.9,373.3 L430.5,371.7 L431.9,370.1 L433.4,368.5 L434.9,366.9 L436.3,365.3 L437.8,363.7 L439.2,362.1 L440.6,360.4 L442.0,358.8 L443.4,357.1 L444.8,355.5 L446.2,353.8 L447.6,352.2 L448.9,350.5 L450.3,348.8 L451.6,347.1 L453.0,345.4 L454.3,343.7 L455.7,342.1 L457.0,340.4 L458.3,338.7 L459.6,336.9 L461.0,335.2 L462.3,333.5 L463.6,331.8 L464.9,330.1 L466.2,328.4 L467.5,326.7 L468.9,324.9 L470.2,323.2 L471.5,321.5 L472.8,319.8 L474.2,318.1 L475.5,316.4 L476.9,314.6 L478.2,313.0 L479.6,311.3 L481.0,309.6 L482.5,308.0 L483.9,306.3 L485.4,304.7 L486.9,303.1 L488.5,301.5 L490.0,300.0 L491.7,298.5 L493.3,297.0 L495.0,295.5 L496.7,294.1 L498.5,292.7 L500.3,291.3 L502.2,290.0 L504.1,288.7 L506.1,287.4 L508.2,286.2 L510.3,285.1 L512.4,284.0 L514.6,282.9 L516.8,282.0 L519.1,281.1 L521.4,280.3 L523.7,279.7 L526.0,279.1 L528.3,278.7 L530.7,278.5 L533.0,278.4 L535.3,278.4 L537.5,278.7 L539.8,279.1 L542.0,279.7 L544.1,280.5 L546.2,281.5 L548.2,282.5 L550.2,283.7 L552.2,285.0 L554.1,286.3 L555.9,287.7 L557.8,289.2 L559.6,290.7 L561.3,292.3 L563.0,293.9 L564.7,295.6 L566.4,297.2 L568.1,298.9 L569.7,300.6 L571.4,302.2 L573.0,303.8 L574.6,305.4 L576.2,307.0 L577.8,308.6 L579.4,310.1 L581.0,311.7 L582.6,313.2 L584.1,314.7 L585.7,316.2 L587.2,317.7 L588.8,319.2 L590.3,320.7 L591.8,322.2 L593.4,323.7 L594.9,325.2 L596.4,326.7 L597.9,328.2 L599.3,329.7 L600.8,331.3 L602.3,332.8 L603.8,334.4 L605.2,336.0 L606.7,337.6 L608.2,339.1 L609.7,340.7 L611.1,342.3 L612.6,343.9 L614.1,345.5 L615.6,347.1 L617.1,348.7 L618.6,350.3 L620.2,351.9 L621.7,353.5 L623.3,355.1 L624.8,356.7 L626.4,358.3 L628.0,359.8 L629.7,361.4 L631.3,362.9 L633.0,364.5 L634.6,366.0 L636.3,367.5 L638.0,369.1 L639.7,370.6 L641.5,372.0 L643.2,373.5 L645.0,375.0 L646.8,376.4 L648.6,377.8 L650.4,379.2 L652.3,380.6 L654.1,382.0 L656.0,383.3 L657.9,384.6 L659.8,385.9 L661.7,387.2 L663.7,388.5 L665.6,389.7 L667.6,390.9 L669.6,392.1 L671.6,393.2 L673.7,394.3 L675.7,395.4 L677.8,396.5 L679.9,397.5 L682.0,398.5 L684.2,399.5 L686.3,400.4 L688.5,401.3 L690.7,402.2 L692.9,403.0 L695.1,403.8 L697.4,404.5 L699.6,405.3 L701.9,405.9 L704.2,406.6 L706.5,407.1 L708.9,407.7 L711.3,408.2 L713.6,408.7 L716.0,409.1 L718.5,409.5 L720.9,409.9 L723.3,410.3 L725.8,410.6 L728.3,410.9 L730.7,411.2 L733.2,411.5 L735.7,411.7 L738.2,411.9 L740.7,412.1 L743.3,412.3 L745.8,412.5 L748.3,412.7 L750.8,412.9 L753.4,413.1 L755.9,413.2 L758.4,413.4 L761.0,413.6 L763.5,413.8 L766.0,413.9 L768.6,414.1 L771.1,414.3 L773.6,414.6 L776.1,414.8 L778.6,415.0 L781.1,415.3 L783.6,415.6 L786.1,415.9 L788.6,416.2 L791.0,416.5 L793.5,416.9 L795.9,417.3 L798.3,417.8 L800.7,418.3 L803.1,418.8 L805.5,419.3 L807.8,419.8 L810.2,420.4 L812.5,421.0 L814.9,421.6 L817.2,422.2 L819.5,422.9 L821.9,423.6 L824.2,424.2 L826.5,424.9 L828.8,425.6 L831.1,426.4 L833.5,427.1 L835.8,427.8 L838.1,428.5 L840.4,429.2 L842.8,430.0 L845.1,430.7 L847.4,431.4 L849.8,432.2 L852.2,432.9 L854.5,433.6 L856.9,434.3 L859.3,435.0 L861.7,435.6 L864.1,436.3 L864.8,436.5" fill="none" stroke="#ff0000" stroke-width="3.8" stroke-dasharray="6.2 10.850" stroke-linecap="round"/></g>
<path d="M187.29,592.01a2.2,2.2 0 1,0 4.4,0a2.2,2.2 0 1,0 -4.4,0M194.75,590.72a2.2,2.2 0 1,0 4.4,0a2.2,2.2 0 1,0 -4.4,0M202.24,589.69a2.2,2.2 0 1,0 4.4,0a2.2,2.2 0 1,0 -4.4,0M209.75,588.86a2.2,2.2 0 1,0 4.4,0a2.2,2.2 0 1,0 -4.4,0M217.26,588.11a2.2,2.2 0 1,0 4.4,0a2.2,2.2 0 1,0 -4.4,0M224.77,587.36a2.2,2.2 0 1,0 4.4,0a2.2,2.2 0 1,0 -4.4,0M232.28,586.51a2.2,2.2 0 1,0 4.4,0a2.2,2.2 0 1,0 -4.4,0M239.77,585.46a2.2,2.2 0 1,0 4.4,0a2.2,2.2 0 1,0 -4.4,0M247.23,584.16a2.2,2.2 0 1,0 4.4,0a2.2,2.2 0 1,0 -4.4,0M254.66,582.59a2.2,2.2 0 1,0 4.4,0a2.2,2.2 0 1,0 -4.4,0M262.06,580.78a2.2,2.2 0 1,0 4.4,0a2.2,2.2 0 1,0 -4.4,0M269.42,578.76a2.2,2.2 0 1,0 4.4,0a2.2,2.2 0 1,0 -4.4,0M276.74,576.53a2.2,2.2 0 1,0 4.4,0a2.2,2.2 0 1,0 -4.4,0M284.02,574.13a2.2,2.2 0 1,0 4.4,0a2.2,2.2 0 1,0 -4.4,0M291.27,571.56a2.2,2.2 0 1,0 4.4,0a2.2,2.2 0 1,0 -4.4,0M298.49,568.82a2.2,2.2 0 1,0 4.4,0a2.2,2.2 0 1,0 -4.4,0M305.66,565.92a2.2,2.2 0 1,0 4.4,0a2.2,2.2 0 1,0 -4.4,0M312.78,562.86a2.2,2.2 0 1,0 4.4,0a2.2,2.2 0 1,0 -4.4,0M319.86,559.62a2.2,2.2 0 1,0 4.4,0a2.2,2.2 0 1,0 -4.4,0M326.88,556.20a2.2,2.2 0 1,0 4.4,0a2.2,2.2 0 1,0 -4.4,0M333.85,552.61a2.2,2.2 0 1,0 4.4,0a2.2,2.2 0 1,0 -4.4,0M340.75,548.83a2.2,2.2 0 1,0 4.4,0a2.2,2.2 0 1,0 -4.4,0M347.59,544.87a2.2,2.2 0 1,0 4.4,0a2.2,2.2 0 1,0 -4.4,0M354.35,540.72a2.2,2.2 0 1,0 4.4,0a2.2,2.2 0 1,0 -4.4,0M361.03,536.37a2.2,2.2 0 1,0 4.4,0a2.2,2.2 0 1,0 -4.4,0M367.63,531.81a2.2,2.2 0 1,0 4.4,0a2.2,2.2 0 1,0 -4.4,0M374.14,527.06a2.2,2.2 0 1,0 4.4,0a2.2,2.2 0 1,0 -4.4,0M380.54,522.09a2.2,2.2 0 1,0 4.4,0a2.2,2.2 0 1,0 -4.4,0M386.83,516.90a2.2,2.2 0 1,0 4.4,0a2.2,2.2 0 1,0 -4.4,0M393.00,511.50a2.2,2.2 0 1,0 4.4,0a2.2,2.2 0 1,0 -4.4,0M399.06,505.89a2.2,2.2 0 1,0 4.4,0a2.2,2.2 0 1,0 -4.4,0M404.99,500.09a2.2,2.2 0 1,0 4.4,0a2.2,2.2 0 1,0 -4.4,0M410.80,494.09a2.2,2.2 0 1,0 4.4,0a2.2,2.2 0 1,0 -4.4,0M416.50,487.92a2.2,2.2 0 1,0 4.4,0a2.2,2.2 0 1,0 -4.4,0M422.07,481.58a2.2,2.2 0 1,0 4.4,0a2.2,2.2 0 1,0 -4.4,0M427.52,475.07a2.2,2.2 0 1,0 4.4,0a2.2,2.2 0 1,0 -4.4,0M432.86,468.42a2.2,2.2 0 1,0 4.4,0a2.2,2.2 0 1,0 -4.4,0M438.08,461.63a2.2,2.2 0 1,0 4.4,0a2.2,2.2 0 1,0 -4.4,0M443.19,454.71a2.2,2.2 0 1,0 4.4,0a2.2,2.2 0 1,0 -4.4,0M448.20,447.67a2.2,2.2 0 1,0 4.4,0a2.2,2.2 0 1,0 -4.4,0M453.11,440.52a2.2,2.2 0 1,0 4.4,0a2.2,2.2 0 1,0 -4.4,0M457.94,433.29a2.2,2.2 0 1,0 4.4,0a2.2,2.2 0 1,0 -4.4,0M462.76,426.05a2.2,2.2 0 1,0 4.4,0a2.2,2.2 0 1,0 -4.4,0M467.62,418.85a2.2,2.2 0 1,0 4.4,0a2.2,2.2 0 1,0 -4.4,0M472.58,411.76a2.2,2.2 0 1,0 4.4,0a2.2,2.2 0 1,0 -4.4,0M477.70,404.85a2.2,2.2 0 1,0 4.4,0a2.2,2.2 0 1,0 -4.4,0M483.04,398.20a2.2,2.2 0 1,0 4.4,0a2.2,2.2 0 1,0 -4.4,0M488.61,391.87a2.2,2.2 0 1,0 4.4,0a2.2,2.2 0 1,0 -4.4,0M494.40,385.83a2.2,2.2 0 1,0 4.4,0a2.2,2.2 0 1,0 -4.4,0M500.36,380.06a2.2,2.2 0 1,0 4.4,0a2.2,2.2 0 1,0 -4.4,0M506.50,374.61a2.2,2.2 0 1,0 4.4,0a2.2,2.2 0 1,0 -4.4,0M513.06,369.99a2.2,2.2 0 1,0 4.4,0a2.2,2.2 0 1,0 -4.4,0M520.17,366.93a2.2,2.2 0 1,0 4.4,0a2.2,2.2 0 1,0 -4.4,0M527.65,366.15a2.2,2.2 0 1,0 4.4,0a2.2,2.2 0 1,0 -4.4,0M535.10,367.48a2.2,2.2 0 1,0 4.4,0a2.2,2.2 0 1,0 -4.4,0M542.25,370.41a2.2,2.2 0 1,0 4.4,0a2.2,2.2 0 1,0 -4.4,0M549.00,374.59a2.2,2.2 0 1,0 4.4,0a2.2,2.2 0 1,0 -4.4,0M555.33,379.69a2.2,2.2 0 1,0 4.4,0a2.2,2.2 0 1,0 -4.4,0M561.28,385.47a2.2,2.2 0 1,0 4.4,0a2.2,2.2 0 1,0 -4.4,0M566.96,391.66a2.2,2.2 0 1,0 4.4,0a2.2,2.2 0 1,0 -4.4,0M572.52,398.02a2.2,2.2 0 1,0 4.4,0a2.2,2.2 0 1,0 -4.4,0M578.08,404.38a2.2,2.2 0 1,0 4.4,0a2.2,2.2 0 1,0 -4.4,0M583.62,410.77a2.2,2.2 0 1,0 4.4,0a2.2,2.2 0 1,0 -4.4,0M589.13,417.20a2.2,2.2 0 1,0 4.4,0a2.2,2.2 0 1,0 -4.4,0M594.58,423.70a2.2,2.2 0 1,0 4.4,0a2.2,2.2 0 1,0 -4.4,0M599.95,430.31a2.2,2.2 0 1,0 4.4,0a2.2,2.2 0 1,0 -4.4,0M605.23,437.04a2.2,2.2 0 1,0 4.4,0a2.2,2.2 0 1,0 -4.4,0M610.46,443.81a2.2,2.2 0 1,0 4.4,0a2.2,2.2 0 1,0 -4.4,0M615.70,450.58a2.2,2.2 0 1,0 4.4,0a2.2,2.2 0 1,0 -4.4,0M621.01,457.27a2.2,2.2 0 1,0 4.4,0a2.2,2.2 0 1,0 -4.4,0M626.42,463.82a2.2,2.2 0 1,0 4.4,0a2.2,2.2 0 1,0 -4.4,0M631.99,470.17a2.2,2.2 0 1,0 4.4,0a2.2,2.2 0 1,0 -4.4,0M637.74,476.25a2.2,2.2 0 1,0 4.4,0a2.2,2.2 0 1,0 -4.4,0M643.69,482.04a2.2,2.2 0 1,0 4.4,0a2.2,2.2 0 1,0 -4.4,0M649.82,487.51a2.2,2.2 0 1,0 4.4,0a2.2,2.2 0 1,0 -4.4,0M656.14,492.65a2.2,2.2 0 1,0 4.4,0a2.2,2.2 0 1,0 -4.4,0M662.62,497.44a2.2,2.2 0 1,0 4.4,0a2.2,2.2 0 1,0 -4.4,0M669.28,501.86a2.2,2.2 0 1,0 4.4,0a2.2,2.2 0 1,0 -4.4,0M676.10,505.88a2.2,2.2 0 1,0 4.4,0a2.2,2.2 0 1,0 -4.4,0M683.06,509.47a2.2,2.2 0 1,0 4.4,0a2.2,2.2 0 1,0 -4.4,0M690.17,512.59a2.2,2.2 0 1,0 4.4,0a2.2,2.2 0 1,0 -4.4,0M697.40,515.26a2.2,2.2 0 1,0 4.4,0a2.2,2.2 0 1,0 -4.4,0M704.71,517.51a2.2,2.2 0 1,0 4.4,0a2.2,2.2 0 1,0 -4.4,0M712.10,519.39a2.2,2.2 0 1,0 4.4,0a2.2,2.2 0 1,0 -4.4,0M719.53,520.96a2.2,2.2 0 1,0 4.4,0a2.2,2.2 0 1,0 -4.4,0M726.99,522.27a2.2,2.2 0 1,0 4.4,0a2.2,2.2 0 1,0 -4.4,0M734.48,523.36a2.2,2.2 0 1,0 4.4,0a2.2,2.2 0 1,0 -4.4,0M741.98,524.28a2.2,2.2 0 1,0 4.4,0a2.2,2.2 0 1,0 -4.4,0M749.48,525.07a2.2,2.2 0 1,0 4.4,0a2.2,2.2 0 1,0 -4.4,0M757.00,525.79a2.2,2.2 0 1,0 4.4,0a2.2,2.2 0 1,0 -4.4,0M764.52,526.47a2.2,2.2 0 1,0 4.4,0a2.2,2.2 0 1,0 -4.4,0M772.03,527.16a2.2,2.2 0 1,0 4.4,0a2.2,2.2 0 1,0 -4.4,0M779.54,527.90a2.2,2.2 0 1,0 4.4,0a2.2,2.2 0 1,0 -4.4,0M787.05,528.75a2.2,2.2 0 1,0 4.4,0a2.2,2.2 0 1,0 -4.4,0M794.54,529.82a2.2,2.2 0 1,0 4.4,0a2.2,2.2 0 1,0 -4.4,0M801.99,531.21a2.2,2.2 0 1,0 4.4,0a2.2,2.2 0 1,0 -4.4,0M809.38,533.05a2.2,2.2 0 1,0 4.4,0a2.2,2.2 0 1,0 -4.4,0M816.69,535.35a2.2,2.2 0 1,0 4.4,0a2.2,2.2 0 1,0 -4.4,0M823.93,537.96a2.2,2.2 0 1,0 4.4,0a2.2,2.2 0 1,0 -4.4,0M831.14,540.69a2.2,2.2 0 1,0 4.4,0a2.2,2.2 0 1,0 -4.4,0M838.37,543.33a2.2,2.2 0 1,0 4.4,0a2.2,2.2 0 1,0 -4.4,0M845.67,545.67a2.2,2.2 0 1,0 4.4,0a2.2,2.2 0 1,0 -4.4,0M853.07,547.42a2.2,2.2 0 1,0 4.4,0a2.2,2.2 0 1,0 -4.4,0" fill="#000000"/>
<path d="M178.5,51.9 H252.5" stroke="#00ff00" stroke-width="4.2" stroke-linecap="round"/>
<path d="M178,103.3 H255" stroke="#ff0000" stroke-width="4.4" stroke-dasharray="7 10.3" stroke-linecap="round"/>
<path d="M178.1,144 H248" stroke="#000000" stroke-width="4.3" stroke-dasharray="0.01 7.7" stroke-linecap="round"/>
<path d="M745.2,122.9 H789" stroke="#505050" stroke-width="1.5"/><path d="M801.8,122.9 C797,121.5 792,119.6 788.2,119.2 C787.2,120.5 787.2,125.3 788.2,126.6 C792,126.2 797,124.3 801.8,122.9 Z" fill="#000"/>
<path d="M726.7,323.5 H777" stroke="#9a9a9a" stroke-width="1.8"/><path d="M777,323.9 H851" stroke="#3c3c3c" stroke-width="1.3"/><path d="M863.2,323.9 L847.4,320.4 L850.5,323.9 L847.4,328 Z" fill="#000"/>
<path d="M194,538.1 H297.2" stroke="#8a8a8a" stroke-width="1.9"/><path d="M180.9,538.1 L194.5,534.6 L193.2,538.1 L194.5,542 Z" fill="#000"/>
<g transform="translate(464,713.4) scale(1.0)" fill="none" stroke="#000" stroke-linecap="round"><path d="M0.2,-21.2 C0.8,-25 4.5,-27 6.5,-23.5 C8.5,-20 9,-12 10.5,-6.5 C11.8,-2 13,0.3 15,0.3 C16.8,0.3 18,-1.5 18.6,-3.2" stroke-width="2.2"/><path d="M8,-14 L1,-0.5" stroke-width="3.1"/></g>
<g transform="translate(684.8,72.4) scale(0.78)" fill="none" stroke="#000" stroke-linecap="round"><path d="M0.2,-21.2 C0.8,-25 4.5,-27 6.5,-23.5 C8.5,-20 9,-12 10.5,-6.5 C11.8,-2 13,0.3 15,0.3 C16.8,0.3 18,-1.5 18.6,-3.2" stroke-width="2.2"/><path d="M8,-14 L1,-0.5" stroke-width="3.1"/></g>
<g>
<g id="l1" transform="translate(60.20,136.00) scale(1,1.1)"><text font-size="33.3" text-anchor="start" > x 0</text><path transform="translate(0.00,0) scale(0.01626,-0.01626)" d="M763,0L583,0L583,1147Q518,1085 412,1023Q307,961 223,930L223,1104Q374,1175 487,1276Q600,1377 647,1466L763,1466Z" fill="#000"/><path transform="translate(35.15,0) scale(0.01626,-0.01626)" d="M763,0L583,0L583,1147Q518,1085 412,1023Q307,961 223,930L223,1104Q374,1175 487,1276Q600,1377 647,1466L763,1466Z" fill="#000"/></g>
<g id="l1s" transform="translate(132.40,116.50) scale(1,1)"><text font-size="20" text-anchor="start" >4</text></g>
<g id="l5" transform="translate(60.65,383.15) scale(1,1.1)"><text font-size="33.3" text-anchor="start" >5x 0</text><path transform="translate(35.15,0) scale(0.01626,-0.01626)" d="M763,0L583,0L583,1147Q518,1085 412,1023Q307,961 223,930L223,1104Q374,1175 487,1276Q600,1377 647,1466L763,1466Z" fill="#000"/></g>
<g id="l5s" transform="translate(132.95,363.85) scale(1,1)"><text font-size="20" text-anchor="start" >3</text></g>
<g id="l0" transform="translate(125.55,623.75) scale(1,1.1)"><text font-size="33.3" text-anchor="start" >0</text></g>
<g id="r6" transform="translate(902.40,34.35) scale(1,1.1)"><text font-size="33.3" text-anchor="start" >6x 0</text><path transform="translate(35.15,0) scale(0.01626,-0.01626)" d="M763,0L583,0L583,1147Q518,1085 412,1023Q307,961 223,930L223,1104Q374,1175 487,1276Q600,1377 647,1466L763,1466Z" fill="#000"/></g>
<g id="r6s" transform="translate(975.00,16.30) scale(1,1)"><text font-size="20" text-anchor="start" >4</text></g>
<g id="r4" transform="translate(902.90,166.80) scale(1,1.1)"><text font-size="33.3" text-anchor="start" >4x 0</text><path transform="translate(35.15,0) scale(0.01626,-0.01626)" d="M763,0L583,0L583,1147Q518,1085 412,1023Q307,961 223,930L223,1104Q374,1175 487,1276Q600,1377 647,1466L763,1466Z" fill="#000"/></g>
<g id="r4s" transform="translate(974.75,147.35) scale(1,1)"><text font-size="20" text-anchor="start" >4</text></g>
<g id="r2" transform="translate(902.40,297.40) scale(1,1.1)"><text font-size="33.3" text-anchor="start" >2x 0</text><path transform="translate(35.15,0) scale(0.01626,-0.01626)" d="M763,0L583,0L583,1147Q518,1085 412,1023Q307,961 223,930L223,1104Q374,1175 487,1276Q600,1377 647,1466L763,1466Z" fill="#000"/></g>
<g id="r2s" transform="translate(975.00,278.60) scale(1,1)"><text font-size="20" text-anchor="start" >4</text></g>
<g id="r0" transform="translate(902.45,423.30) scale(1,1.1)"><text font-size="33.3" text-anchor="start" >0</text></g>
<g id="rm2" transform="translate(902.90,562.05) scale(1,1.1)"><text font-size="33.3" text-anchor="start" >-2x 0</text><path transform="translate(46.24,0) scale(0.01626,-0.01626)" d="M763,0L583,0L583,1147Q518,1085 412,1023Q307,961 223,930L223,1104Q374,1175 487,1276Q600,1377 647,1466L763,1466Z" fill="#000"/></g>
<g id="rm2s" transform="translate(985.85,542.15) scale(1,1)"><text font-size="20" text-anchor="start" >4</text></g>
<g id="b605" transform="translate(223.50,661.00) scale(1,1.1)"><text font-size="33.3" text-anchor="middle" >605</text></g>
<g id="b610" transform="translate(376.00,661.50) scale(1,1.1)"><text font-size="33.3" text-anchor="middle" >6 0</text><path transform="translate(-9.28,0) scale(0.01626,-0.01626)" d="M763,0L583,0L583,1147Q518,1085 412,1023Q307,961 223,930L223,1104Q374,1175 487,1276Q600,1377 647,1466L763,1466Z" fill="#000"/></g>
<g id="b615" transform="translate(529.00,661.80) scale(1,1.1)"><text font-size="33.3" text-anchor="middle" >6 5</text><path transform="translate(-9.28,0) scale(0.01626,-0.01626)" d="M763,0L583,0L583,1147Q518,1085 412,1023Q307,961 223,930L223,1104Q374,1175 487,1276Q600,1377 647,1466L763,1466Z" fill="#000"/></g>
<g id="b620" transform="translate(682.00,661.00) scale(1,1.1)"><text font-size="33.3" text-anchor="middle" >620</text></g>
<g id="b625" transform="translate(834.45,661.80) scale(1,1.1)"><text font-size="33.3" text-anchor="middle" >625</text></g>
<g id="nm" transform="translate(496.30,714.50) scale(1,1)"><text font-size="42.8" text-anchor="start" >(nm)</text></g>
<g id="lg1a" transform="translate(261.50,63.40) scale(1,1.1)"><text font-size="33.3" text-anchor="start" xml:space="preserve">5% H</text></g>
<g id="lg1s" transform="translate(343.50,76.20) scale(1,1)"><text font-size="20" text-anchor="start" >2</text></g>
<g id="lg1b" transform="translate(355.00,63.30) scale(1,1.1)"><text font-size="33.3" text-anchor="start" >-Ar</text></g>
<g id="argon" transform="translate(261.95,115.00) scale(1,1.1)"><text font-size="33.3" text-anchor="start" >argon</text></g>
<g id="air" transform="translate(262.90,157.40) scale(1,1.1)"><text font-size="33.3" text-anchor="start" >air</text></g>
<g id="exc" transform="translate(699.95,86.35) scale(1,1)"><text font-size="20" text-anchor="start" >exc</text></g>
<g id="eq" transform="translate(740.55,75.15) scale(1,1.1)"><text font-size="33.3" text-anchor="start" >= 488 nm</text></g>
<g id="sup1" transform="translate(683.40,114.60) scale(1,1)"><text font-size="20" text-anchor="start" > </text><path transform="translate(0.00,0) scale(0.00977,-0.00977)" d="M763,0L583,0L583,1147Q518,1085 412,1023Q307,961 223,930L223,1104Q374,1175 487,1276Q600,1377 647,1466L763,1466Z" fill="#000"/></g>
<g id="D" transform="translate(694.60,133.95) scale(1,1.1)"><text font-size="33.3" text-anchor="start" >D</text></g>
<g id="sub2" transform="translate(718.10,145.50) scale(1,1)"><text font-size="20" text-anchor="start" >2</text></g>
<g id="sup3" transform="translate(820.85,114.75) scale(1,1)"><text font-size="20" text-anchor="start" >3</text></g>
<g id="H" transform="translate(831.45,134.30) scale(1,1.1)"><text font-size="33.3" text-anchor="start" >H</text></g>
<g id="sub4" transform="translate(855.20,146.45) scale(1,1)"><text font-size="20" text-anchor="start" >4</text></g>
<g id="ysz1" transform="translate(711.35,300.75) scale(1,1.1)"><text font-size="33.3" text-anchor="start" >YSZ- Pr</text><path transform="translate(75.84,0) scale(0.01626,-0.01626)" d="M763,0L583,0L583,1147Q518,1085 412,1023Q307,961 223,930L223,1104Q374,1175 487,1276Q600,1377 647,1466L763,1466Z" fill="#000"/></g>
<g id="ysz5" transform="translate(193.70,502.20) scale(1,1.1)"><text font-size="33.3" text-anchor="start" >YSZ-5Pr</text></g>
<text id="ytitle" transform="translate(36.45,325.50) rotate(-90)" font-size="43" text-anchor="middle">Average Intensity (a.u.)</text>
</g>
</svg>
</body></html>
